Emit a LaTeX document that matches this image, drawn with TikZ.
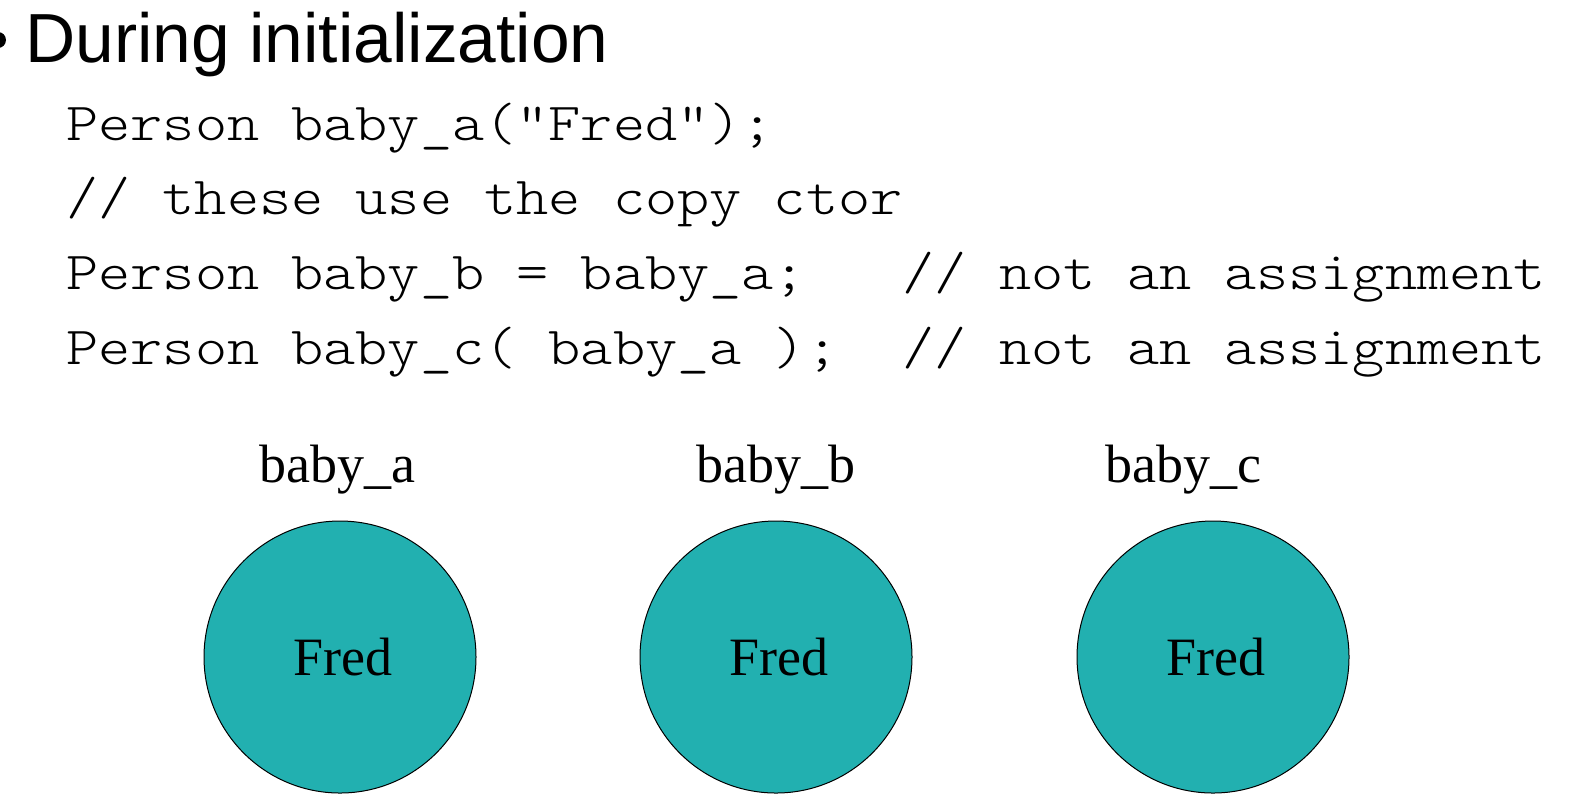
\documentclass[tikz,border=0pt]{standalone}
\usepackage{fontspec}
\setmainfont{Liberation Serif}
\setsansfont{Liberation Sans}
\newfontfamily\codefont[FakeStretch=1.143]{Latin Modern Mono Light}
\definecolor{babyteal}{RGB}{34,176,176}

\begin{document}
\begin{tikzpicture}[x=0.5pt,y=-0.5pt,
  headline/.style={anchor=base west,inner sep=0pt,font=\sffamily\fontsize{34.75pt}{40pt}\selectfont},
  codeline/.style={anchor=base west,inner sep=0pt,font=\codefont\fontsize{26.8pt}{30pt}\selectfont},
  babyname/.style={anchor=base,inner sep=0pt,font=\fontsize{27pt}{30pt}\selectfont},
  babyobj/.style={circle,draw=black,line width=0.5pt,fill=babyteal,minimum size=136pt,inner sep=0pt,
    font=\fontsize{27pt}{30pt}\selectfont}]
\useasboundingbox (0,0) rectangle (1583,811);
% The heading
\node[fill,circle,inner sep=0pt,minimum size=8pt] (dot) at (-2,40) {};
\node[headline] (head) at (25,62) {During initialization};
% The code
\node[codeline] (line1) at (66,140) {Person baby\_a("Fred");};
\node[codeline] (line2) at (66,214) {// these use the copy ctor};
\node[codeline] (line3) at (66,289) {Person baby\_b = baby\_a;\ \ \ // not an assignment};
\node[codeline] (line4) at (66,364) {Person baby\_c( baby\_a );\ \ // not an assignment};

% The three objects
\node[babyobj] (fredA) at (340,657) {\hspace*{3pt}Fred};
\node[babyobj] (fredB) at (776,657) {\hspace*{3pt}Fred};
\node[babyobj] (fredC) at (1213,657) {\hspace*{3pt}Fred};

% Their names
\node[babyname] (nameA) at (337,482) {baby\_a};
\node[babyname] (nameB) at (776,482) {baby\_b};
\node[babyname] (nameC) at (1183,482) {baby\_c};
\end{tikzpicture}
\end{document}
